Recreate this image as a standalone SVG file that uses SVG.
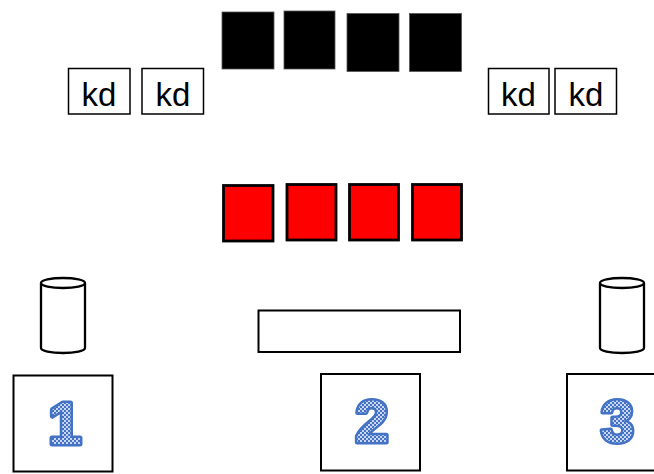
<svg xmlns="http://www.w3.org/2000/svg" width="654" height="474" viewBox="0 0 654 474">
<style>
.blk{fill:#000;stroke:#555;stroke-width:0.8}
.red{fill:#ff0000;stroke:#000;stroke-width:2.8}
.kd{fill:#fff;stroke:#000;stroke-width:1.5}
.kdt{font-family:"Liberation Sans",Arial,sans-serif;font-size:33px;fill:#000;text-anchor:middle}
.box{fill:#fff;stroke:#000;stroke-width:2}
.cyl{fill:#fff;stroke:#000;stroke-width:2.3}
.num{font-family:"Liberation Sans",Arial,sans-serif;font-weight:bold;font-size:60px;text-anchor:middle;fill:url(#dots);stroke:#4472c4;stroke-width:5;stroke-linejoin:round;paint-order:stroke}
</style>
<defs>
<pattern id="dots" width="4" height="4" patternUnits="userSpaceOnUse">
<rect width="4" height="4" fill="#4472c4"/>
<rect width="2" height="2" fill="#c9d6ef"/>
<rect x="2" y="2" width="2" height="2" fill="#c9d6ef"/>
</pattern>
</defs>
<rect width="654" height="474" fill="#fff"/>
<g id="black-squares">
<rect class="blk" x="222" y="12" width="52" height="57"/>
<rect class="blk" x="284" y="11" width="51" height="58"/>
<rect class="blk" x="347" y="13.5" width="52" height="58"/>
<rect class="blk" x="409.5" y="13.5" width="52" height="58"/>
</g>
<g id="kd1"><rect class="kd" x="68.5" y="68.5" width="61.5" height="45.5"/><text class="kdt" x="99" y="105.5">kd</text></g>
<g id="kd2"><rect class="kd" x="142" y="68.5" width="61.5" height="45.5"/><text class="kdt" x="173" y="105.5">kd</text></g>
<g id="kd3"><rect class="kd" x="488.5" y="68.5" width="60.5" height="45.5"/><text class="kdt" x="518.5" y="105.5">kd</text></g>
<g id="kd4"><rect class="kd" x="555" y="68.5" width="61.5" height="45.5"/><text class="kdt" x="586" y="105.5">kd</text></g>
<g id="red-squares">
<rect class="red" x="223.5" y="185.5" width="49.5" height="55.5"/>
<rect class="red" x="287" y="184.5" width="49" height="55.5"/>
<rect class="red" x="349.5" y="184.5" width="49" height="55.5"/>
<rect class="red" x="412.5" y="184.5" width="49" height="55.5"/>
</g>
<g id="cyl-left">
<path class="cyl" d="M41,283 V348 A22,5 0 0 0 85,348 V283"/>
<ellipse class="cyl" cx="63" cy="283" rx="22" ry="5"/>
</g>
<g id="cyl-right">
<path class="cyl" d="M600,283 V348 A22,5 0 0 0 644,348 V283"/>
<ellipse class="cyl" cx="622" cy="283" rx="22" ry="5"/>
</g>
<g id="bar"><rect class="box" x="258.5" y="310.5" width="201.5" height="41.5"/></g>
<g id="n1"><rect class="box" x="13.5" y="375.5" width="99" height="96"/><text class="num" x="65" y="444">1</text></g>
<g id="n2"><rect class="box" x="321" y="374" width="99" height="96.5"/><text class="num" x="372" y="442">2</text></g>
<g id="n3"><rect class="box" x="567" y="374" width="99" height="96.5"/><text class="num" x="617.5" y="442">3</text></g>
<g id="connectors"></g>
</svg>
